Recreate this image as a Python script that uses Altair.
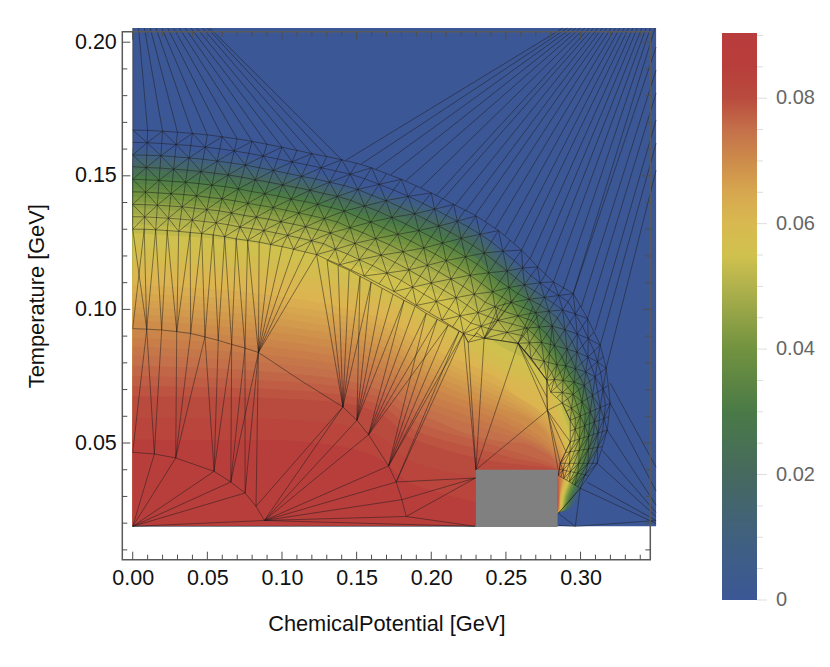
import altair as alt
import pandas as pd

# ---- colour bar / heat levels ----
color_domain = [0, .01, .02, .03, .04, .05, .055, .0625, .07, .075, .08, .085, .0904]
color_range = ["#3c5796", "#40607f", "#46695f", "#4a7a47", "#71923f", "#b1b24c", "#d0c14e",
               "#dcb551", "#cd8c4a", "#c4704a", "#b94b3e", "#b83e3b", "#b83c3c"]
cbar_major = [0, .02, .04, .06, .08]
cbar_labels = ["0", "0.02", "0.04", "0.06", "0.08"]
cbar_minor = [.005, .01, .015, .025, .03, .035, .045, .05, .055, .065, .07, .075, .085, .09]

# contour levels: T at fixed mu columns (upper dome), mu at fixed T rows (right flank)
top_mu = [0, .05, .1, .15, .2, .25]
row_T = [.12, .11, .10, .09, .08, .07, .06, .05, .04, .03, .025, .0235, .019]
N = None
levels = [
 (.005, [.1604,.1585,.1542,.1463,.1398,.1220], [.254,.272,.287,.297,.305,.311,.315,.314,.307,.2985,.2925,.284,.284]),
 (.01,  [.1585,.1563,.1518,.1446,.1379,.1199], [N,.268,.283,.294,.302,.309,.312,.312,.3055,.2975,.2915,.284,.284]),
 (.015, [.1566,.1544,.1501,.1430,.1360,.1178], [N,.264,.279,.290,.299,.307,.311,.311,.304,.2965,.291,.284,.284]),
 (.02,  [.1544,.1521,.1480,.1409,.1338,.1152], [N,.260,.275,.286,.296,.304,.309,.309,.303,.2955,.2905,.284,.284]),
 (.025, [.1525,.1503,.1461,.1390,.1317,.1130], [N,.256,.271,.282,.293,.302,.307,.307,.302,.2945,.290,.284,.284]),
 (.03,  [.1503,.1480,.1439,.1368,.1293,.1103], [N,.2515,.267,.278,.290,.300,.305,.305,.301,.2935,.2895,.284,.284]),
 (.0325,[.1487,.1465,.1424,.1353,.1277,.1086], [N,N,.2645,.276,.288,.2985,.3035,.304,.3003,.293,.2892,.284,.284]),
 (.035, [.1471,.1449,.1409,.1338,.1261,.1068], [N,N,.262,.274,.286,.297,.302,.303,.2995,.2925,.289,.284,.284]),
 (.0375,[.1455,.1433,.1394,.1323,.1244,.1049], [N,N,.259,.272,.284,.2955,.3005,.302,.2988,.292,.2888,.284,.284]),
 (.04,  [.1439,.1416,.1379,.1308,.1227,.1029], [N,N,.256,.270,.282,.294,.299,.301,.298,.2915,.2885,.284,.284]),
 (.0425,[.1422,.1400,.1363,.1292,.1210,.1009], [N,N,.252,.268,.280,.2925,.2975,.300,.2975,.291,.2882,.284,.284]),
 (.045, [.1405,.1383,.1347,.1276,.1192,.0989], [N,N,N,.266,.278,.291,.296,.299,.297,.2905,.288,.284,.284]),
 (.0475,[.1381,.1359,.1324,.1253,.1168,.0961], [N,N,N,.2615,.2755,.289,.2945,.298,.2963,.29,.2878,.284,.284]),
 (.05,  [.1357,.1334,.1300,.1229,.1143,.0933], [N,N,N,.257,.273,.287,.293,.297,.2955,.2895,.2875,.284,.284]),
 (.0525,[.1321,.1301,.1267,.1196,.1106,.0892], [N,N,N,N,.2705,.2845,.291,.2955,.2948,.289,.2872,.284,.284]),
 (.055, [.1285,.1267,.1233,.1162,.1068,.0851], [N,N,N,N,.268,.282,.289,.294,.294,.2885,.287,.284,.284]),
 (.0575,[.1235,.1218,.1186,.1117,.1005,.0812], [N,N,N,N,.255,.279,.287,.292,.293,.288,.2868,.284,.284]),
 (.06,  [.1184,.1169,.1139,.1072,.0941,.0772], [N,N,N,N,N,.276,.285,.290,.292,.2875,.2865,.284,.284]),
 (.06125,[.1153,.1138,.1108,.1046,.0913,.0753], [N,N,N,N,N,.267,.2828,.2893,.2915,.2872,.2863,.284,.284]),
 (.0625,[.1123,.1108,.1078,.1020,.0885,.0735], [N,N,N,N,N,.258,.2805,.2885,.291,.287,.2862,.284,.284]),
 (.06375,[.1092,.1077,.1047,.0993,.0856,.0716], [N,N,N,N,N,.252,.278,.2878,.2905,.2868,.2861,.284,.284]),
 (.065, [.1061,.1046,.1016,.0967,.0828,.0697], [N,N,N,N,N,N,.276,.287,.290,.2865,.286,.284,.284]),
 (.06625,[.1035,.1020,.0990,.0942,.0805,.0678], [N,N,N,N,N,N,.2725,.2855,.2895,.2863,.2859,.284,.284]),
 (.0675,[.1010,.0994,.0964,.0917,.0782,.0660], [N,N,N,N,N,N,.269,.284,.289,.2862,.2858,.284,.284]),
 (.06875,[.0984,.0967,.0937,.0891,.0758,.0641], [N,N,N,N,N,N,.2655,.2825,.2885,.2861,.2856,.284,.284]),
 (.07,  [.0959,.0941,.0911,.0866,.0735,.0622], [N,N,N,N,N,N,.262,.281,.288,.286,.2855,.284,.284]),
 (.07125,[.0926,.0910,.0882,.0838,.0707,.0599], [N,N,N,N,N,N,N,.278,.2875,.2859,.2853,.284,.284]),
 (.0725,[.0894,.0879,.0853,.0810,.0679,.0576], [N,N,N,N,N,N,N,.2745,.287,.2858,.2852,.284,.284]),
 (.07375,[.0861,.0848,.0824,.0781,.0650,.0552], [N,N,N,N,N,N,N,.271,.2865,.2856,.2851,.284,.284]),
 (.075, [.0828,.0817,.0795,.0753,.0622,.0529], [N,N,N,N,N,N,N,.268,.286,.2855,.285,.284,.284]),
 (.07625,[.0790,.0781,.0763,.0725,.0590,.0503], [N,N,N,N,N,N,N,.262,.2855,.2853,.2849,.284,.284]),
 (.0775,[.0752,.0745,.0731,.0697,.0557,.0477], [N,N,N,N,N,N,N,N,.285,.2852,.2848,.284,.284]),
 (.07875,[.0713,.0709,.0699,.0669,.0524,.0451], [N,N,N,N,N,N,N,N,.2845,.2851,.2846,.284,.284]),
 (.08,  [.0675,.0673,.0667,.0641,.0491,.0425], [N,N,N,N,N,N,N,N,.284,.285,.2845,.284,.284]),
 (.0825,[.0594,.0592,.0589,.0557,.0407,.0346], [N,N,N,N,N,N,N,N,N,.2847,.2842,.284,.284]),
 (.085, [.0512,.0511,.0510,.0473,.0323,.0267], [N,N,N,N,N,N,N,N,N,N,.284,.284,.284]),
]

# ---- mesh: nodes per spoke (outer arc -> inner arc) ----
spoke_mu = [
 [0,0,0,0,0,0,0,0,0],
 [.0100,.0097,.0094,.0091,.0089,.0086,.0083,.0080,.0077],
 [.0200,.0194,.0189,.0183,.0177,.0171,.0165,.0160,.0154],
 [.0300,.0291,.0283,.0274,.0266,.0257,.0248,.0240,.0231],
 [.0400,.0389,.0377,.0366,.0354,.0343,.0331,.0320,.0308],
 [.0500,.0486,.0471,.0457,.0443,.0428,.0414,.0399,.0385],
 [.0600,.0583,.0566,.0548,.0531,.0514,.0496,.0479,.0462],
 [.0700,.0680,.0660,.0640,.0620,.0599,.0579,.0559,.0539],
 [.0800,.0777,.0754,.0731,.0708,.0685,.0662,.0639,.0616],
 [.0900,.0874,.0848,.0822,.0797,.0771,.0745,.0719,.0693],
 [.1000,.0971,.0943,.0914,.0885,.0856,.0828,.0799,.0770],
 [.1100,.1068,.1037,.1005,.0974,.0942,.0910,.0879,.0847],
 [.1200,.1166,.1131,.1097,.1062,.1028,.0993,.0959,.0924],
 [.1300,.1263,.1225,.1188,.1151,.1113,.1076,.1038,.1001],
 [.1400,.1360,.1319,.1279,.1239,.1199,.1158,.1118,.1078],
 [.1500,.1457,.1414,.1371,.1328,.1284,.1241,.1198,.1155],
 [.1600,.1554,.1508,.1462,.1416,.1370,.1324,.1278,.1232],
 [.1700,.1651,.1602,.1553,.1505,.1456,.1407,.1358,.1309],
 [.1800,.1748,.1697,.1645,.1593,.1541,.1489,.1438,.1386],
 [.1900,.1845,.1791,.1736,.1682,.1627,.1572,.1518,.1463],
 [.2000,.1944,.1888,.1831,.1775,.1719,.1663,.1606,.1550],
 [.2075,.2022,.1969,.1916,.1863,.1810,.1757,.1703,.1650],
 [.2150,.2100,.2050,.2000,.1950,.1900,.1850,.1800,.1750],
 [.2225,.2175,.2125,.2075,.2025,.1975,.1925,.1875,.1825],
 [.2300,.2250,.2200,.2150,.2100,.2050,.2000,.1950,.1900],
 [.2375,.2327,.2278,.2229,.2181,.2132,.2083,.2034,.1986],
 [.2450,.2403,.2355,.2308,.2261,.2213,.2166,.2118,.2071],
 [.2528,.2480,.2432,.2384,.2336,.2288,.2240,.2192,.2144],
 [.2605,.2556,.2508,.2459,.2411,.2362,.2313,.2265,.2216],
 [.2659,.2612,.2566,.2520,.2474,.2427,.2380,.2334,.2288],
 [.2712,.2668,.2624,.2580,.2536,.2491,.2447,.2403,.2359],
 [.2766,.2729,.2692,.2655,.2618,.2581,.2544,.2507,.2470],
 [.2819,.2789,.2759,.2730,.2700,.2670,.2640,.2611,.2581],
 [.2885,.2853,.2820,.2788,.2755,.2722,.2690,.2657,.2625],
 [.2951,.2916,.2880,.2845,.2810,.2774,.2739,.2703,.2668],
 [.2999,.2965,.2929,.2895,.2860,.2825,.2791,.2755,.2721],
 [.3047,.3013,.2978,.2944,.2910,.2876,.2842,.2807,.2773],
 [.3090,.3052,.3014,.2976,.2938,.2901,.2863,.2825,.2787],
 [.3132,.3091,.3049,.3008,.2966,.2925,.2883,.2842,.2800],
 [.3152,.3113,.3074,.3035,.2996,.2957,.2917,.2878,.2839],
 [.3172,.3135,.3098,.3061,.3025,.2988,.2951,.2914,.2877],
 [.3186,.3151,.3115,.3080,.3045,.3010,.2975,.2940,.2904],
 [.3199,.3166,.3132,.3099,.3065,.3032,.2998,.2965,.2931],
 [.3189,.3157,.3125,.3093,.3060,.3028,.2996,.2964,.2931],
 [.3179,.3148,.3117,.3086,.3055,.3024,.2993,.2962,.2931],
 [.3146,.3115,.3084,.3053,.3022,.2991,.2960,.2929,.2898],
 [.3112,.3081,.3050,.3019,.2988,.2957,.2926,.2895,.2864],
 [.3055,.3031,.3006,.2981,.2957,.2932,.2907,.2882,.2858],
 [.2998,.2980,.2961,.2943,.2925,.2906,.2888,.2869,.2851],
]
spoke_T = [
 [.1671,.1625,.1578,.1534,.1487,.1440,.1393,.1347,.1300],
 [.1670,.1624,.1577,.1531,.1485,.1439,.1392,.1346,.1300],
 [.1667,.1621,.1575,.1529,.1483,.1436,.1390,.1344,.1298],
 [.1663,.1617,.1571,.1525,.1479,.1433,.1387,.1341,.1295],
 [.1659,.1613,.1567,.1521,.1476,.1430,.1384,.1338,.1292],
 [.1653,.1607,.1562,.1516,.1471,.1425,.1379,.1334,.1288],
 [.1646,.1601,.1555,.1510,.1465,.1419,.1374,.1329,.1284],
 [.1638,.1593,.1548,.1503,.1459,.1414,.1369,.1324,.1279],
 [.1629,.1584,.1540,.1495,.1451,.1406,.1361,.1317,.1272],
 [.1618,.1574,.1530,.1485,.1441,.1397,.1352,.1308,.1264],
 [.1607,.1563,.1520,.1476,.1433,.1389,.1345,.1302,.1258],
 [.1595,.1552,.1509,.1466,.1424,.1381,.1338,.1295,.1252],
 [.1583,.1541,.1498,.1456,.1413,.1371,.1328,.1286,.1243],
 [.1572,.1530,.1488,.1446,.1404,.1361,.1319,.1277,.1235],
 [.1560,.1518,.1476,.1434,.1393,.1351,.1309,.1267,.1225],
 [.1547,.1506,.1464,.1423,.1381,.1340,.1298,.1257,.1215],
 [.1530,.1489,.1449,.1408,.1368,.1327,.1286,.1246,.1205],
 [.1508,.1468,.1427,.1387,.1347,.1306,.1266,.1225,.1185],
 [.1487,.1447,.1407,.1367,.1327,.1287,.1247,.1207,.1167],
 [.1462,.1423,.1383,.1344,.1305,.1265,.1226,.1186,.1147],
 [.1436,.1397,.1358,.1319,.1281,.1242,.1203,.1164,.1125],
 [.1415,.1375,.1335,.1295,.1256,.1216,.1176,.1136,.1096],
 [.1393,.1352,.1312,.1271,.1230,.1189,.1148,.1108,.1067],
 [.1372,.1330,.1289,.1248,.1207,.1165,.1124,.1083,.1041],
 [.1350,.1308,.1266,.1224,.1183,.1141,.1099,.1057,.1015],
 [.1323,.1281,.1239,.1197,.1156,.1114,.1072,.1030,.0988],
 [.1295,.1253,.1211,.1169,.1128,.1086,.1044,.1002,.0960],
 [.1259,.1218,.1178,.1137,.1097,.1057,.1016,.0976,.0935],
 [.1222,.1183,.1144,.1105,.1066,.1027,.0988,.0949,.0910],
 [.1191,.1155,.1118,.1082,.1046,.1010,.0974,.0937,.0901],
 [.1159,.1126,.1092,.1059,.1026,.0992,.0959,.0925,.0892],
 [.1131,.1100,.1069,.1038,.1007,.0976,.0945,.0914,.0883],
 [.1103,.1074,.1045,.1017,.0988,.0959,.0930,.0902,.0873],
 [.1081,.1052,.1022,.0993,.0963,.0934,.0904,.0875,.0845],
 [.1059,.1029,.0998,.0968,.0938,.0908,.0877,.0847,.0817],
 [.1013,.0983,.0953,.0924,.0895,.0865,.0835,.0806,.0776],
 [.0966,.0937,.0908,.0879,.0851,.0822,.0793,.0764,.0735],
 [.0916,.0891,.0865,.0840,.0815,.0789,.0764,.0738,.0713],
 [.0866,.0844,.0822,.0800,.0778,.0756,.0734,.0712,.0690],
 [.0823,.0804,.0785,.0766,.0747,.0728,.0708,.0689,.0670],
 [.0780,.0764,.0747,.0731,.0715,.0699,.0682,.0666,.0650],
 [.0715,.0703,.0690,.0678,.0666,.0654,.0642,.0630,.0618],
 [.0649,.0641,.0633,.0625,.0617,.0609,.0601,.0593,.0585],
 [.0599,.0592,.0585,.0579,.0572,.0565,.0558,.0552,.0545],
 [.0548,.0543,.0537,.0532,.0526,.0521,.0515,.0510,.0504],
 [.0486,.0484,.0481,.0478,.0475,.0473,.0470,.0467,.0464],
 [.0424,.0424,.0424,.0424,.0424,.0424,.0424,.0424,.0424],
 [.0378,.0381,.0384,.0387,.0390,.0393,.0396,.0399,.0402],
 [.0331,.0337,.0343,.0349,.0355,.0361,.0367,.0373,.0379],
]

# arcs inside the dome
arcA = [(0,.0928),(.0094,.0926),(.0194,.0923),(.0295,.0917),(.0388,.0910),(.0484,.0897),(.0573,.0884),
        (.0663,.0869),(.0752,.0855),(.0842,.0839),(.1122,.0735),(.1408,.0635),(.1502,.0585),(.1580,.0531),
        (.1714,.0414),(.1765,.0354),(.1803,.0288),(.1832,.0225)]
arcB = [(0,.0465),(.0145,.0459),(.0288,.0444),(.0545,.0394),(.0657,.0354),(.0753,.0313),(.0826,.0263),(.0882,.0210)]
P0 = (0,.0188); P1 = (.0882,.0210); BL = (.2296,.0188); BM = (.2296,.0369); G = (.2299,.0400)
inner_far = [(.1302,.1184),(.1376,.1165),(.1450,.1147),(.1523,.1124),(.1597,.1102),(.1671,.1079),(.1744,.1057),
             (.1818,.1034),(.1892,.1012),(.1966,.0985),(.2040,.0963),(.2113,.0941),(.2187,.0918),(.2216,.0910)]
J2 = (.2247,.0877); J3 = (.2305,.0912); J4 = (.2354,.0892); J5 = (.2582,.0873)
H = (.2778,.0622); H2 = (.2775,.0735); H3 = (.2775,.0671); H4 = (.2877,.0650)
NB = (.2965,.0188)
fans = [
 ((0,.0928),[(.0077,.13),]),
 (arcA[1],[(0,.13),(.0077,.13),(.0154,.1298)]),
 (arcA[2],[(.0154,.1298),(.0231,.1295)]),
 (arcA[3],[(.0231,.1295),(.0308,.1292),(.0385,.1288)]),
 (arcA[4],[(.0385,.1288),(.0462,.1284)]),
 (arcA[5],[(.0462,.1284),(.0539,.1279)]),
 (arcA[6],[(.0539,.1279),(.0616,.1272)]),
 (arcA[7],[(.0616,.1272),(.0693,.1264)]),
 (arcA[8],[(.0693,.1264),(.0770,.1258)]),
 (arcA[9],[(.0770,.1258),(.0847,.1252),(.0924,.1243),(.1001,.1235),(.1078,.1225),(.1155,.1215),(.1232,.1205)]),
 (arcA[11],[(.1232,.1205),(.1302,.1184),(.1376,.1165),(.1450,.1147),(.1523,.1124),(.1597,.1102)]),
 (arcA[12],[(.1523,.1124),(.1597,.1102),(.1671,.1079),(.1744,.1057),(.1818,.1034)]),
 (arcA[13],[(.1818,.1034),(.1892,.1012),(.1966,.0985),(.2040,.0963),(.2113,.0941)]),
 (arcA[14],[(.1966,.0985),(.2040,.0963),(.2113,.0941),(.2187,.0918),(.2216,.0910)]),
 (arcA[15],[(.2187,.0918),(.2216,.0910)]),
 (arcB[0],[arcA[1]]),
 (arcB[1],[arcA[1],arcA[2]]),
 (arcB[2],[arcA[3],arcA[4],arcA[5]]),
 (arcB[3],[arcA[5],arcA[6],arcA[7]]),
 (arcB[4],[arcA[7],arcA[8],arcA[9]]),
 (arcB[5],[arcA[8],arcA[9]]),
 (arcB[6],[arcA[9],arcA[11]]),
 (P0,[arcB[1],arcB[2],arcB[3],arcB[4],arcB[5],P1,BL]),
 (P1,[arcA[11],arcA[12],arcA[13],arcA[14],arcA[15],arcA[16],arcA[17],BL]),
 (BM,[arcA[15],arcA[16],arcA[17]]),
 (arcA[17],[BL]),
 (G,[(.2216,.0910),J2,J4,J5,H]),
 ((.2850,.0400),[H]),
 (J2,[(.2216,.0910),J3,J4]),
 (J4,[J3,J5,(.2450,.1010),(.2500,.1030),(.2550,.1040)]),
 (J5,[H2,H3,H,(.2668,.0817),(.2720,.0980),(.2680,.1010)]),
 (H,[H3,H4,(.2931,.0504),(.2900,.0470),(.2864,.0424)]),
 (H2,[H3,(.2810,.0938)]),
 ((.2864,.0424),[(.2851,.0379)]),
 ((.2998,.0331),[(.2931,.0286),NB]),
 ((.2931,.0286),[(.2851,.0237)]),
 ((.2851,.0237),[NB]),
 ((.2851,.0192),[NB]),
 (NB,[(.3506,.0210)]),
]
# lines leaving the dome towards the top and right edges
top_T = .2053
fan_left_from = [spoke_mu[k][0] for k in range(0, 15)]
fan_left_T = [spoke_T[k][0] for k in range(0, 15)]
fan_left_to = [0,.0039,.0078,.0117,.0156,.0195,.0234,.0273,.0312,.0351,.0390,.0429,.0468,.0500,.0517]
fan_right_from = [(.143,.1559),(.153,.1544),(.163,.1525),(.173,.1505),(.183,.1482),(.193,.1455),(.203,.1425),
                  (.2082,.1415),(.216,.1390),(.223,.1369),(.2294,.1353),(.2361,.1328),(.2428,.1303),(.2495,.1278),
                  (.2555,.1250),(.2605,.1222),(.2663,.1191),(.2712,.1159),(.2763,.1132),(.2819,.1103),(.2884,.1078),(.2951,.1059)]
fan_right_to = [.2882,.2911,.2940,.2970,.2999,.3028,.3058,.3087,.3116,.3146,.3175,.3204,.3234,.3263,.3292,.3322,.3351,.3380,.3410,.3439,.3468,.3499]
edge_R = .3506
edge_from = [(.2951,.1059),(.3005,.1009),(.3047,.0966),(.3098,.0922),(.3132,.0866),(.3172,.0780),
             (.3199,.0724),(.3199,.0649),(.3179,.0548),(.3145,.0473),(.3112,.0424),(.3045,.0353),(.2998,.0331)]
edge_to_T = [.1982,.1896,.1810,.1709,.1622,.1521,.0409,.0320,.0267,.0240,.0225,.0210,.0199]

# ticks and labels
x_major = [0, .05, .10, .15, .20, .25, .30]
x_minor = [.01,.02,.03,.04,.06,.07,.08,.09,.11,.12,.13,.14,.16,.17,.18,.19,.21,.22,.23,.24,.26,.27,.28,.29,.31,.32,.33,.34]
y_major = [.05, .10, .15, .20]
y_minor = [.01,.02,.03,.04,.06,.07,.08,.09,.11,.12,.13,.14,.16,.17,.18,.19]

X_DOM = [-.00697, .34672]
Y_DOM = [.00633, .20393]
W, H_ = 528, 528
FONT = "Liberation Sans"

xs = alt.Scale(domain=X_DOM, nice=False, zero=False)
ys = alt.Scale(domain=Y_DOM, nice=False, zero=False)
cs = alt.Scale(domain=color_domain, range=color_range, interpolate="rgb")

def X(f="mu", axis=None):
    return alt.X(f"{f}:Q", scale=xs, axis=axis, title=None)
def Y(f="T", axis=None):
    return alt.Y(f"{f}:Q", scale=ys, axis=axis, title=None)

layers = []

# background
bg = pd.DataFrame({"mu": [0], "mu2": [edge_R], "T": [.0188], "T2": [top_T]})
layers.append(alt.Chart(bg).mark_rect(color=color_range[0]).encode(
    x=X(), x2="mu2:Q", y=Y(), y2="T2:Q"))

# filled contour levels, lowest first
for i, (lv, top_vals, right_vals) in enumerate(levels):
    pts = [(m, t) for m, t in zip(top_mu, top_vals)]
    pts += [(m, t) for m, t in zip(right_vals, row_T) if m is not None]
    pts.sort(key=lambda p: -p[1])
    df = pd.DataFrame({"mu": [p[0] for p in pts], "T": [p[1] for p in pts], "zero": 0.0, "level": lv})
    legend = None
    if i == 0:
        legend = alt.Legend(orient="none", legendX=599.7, legendY=1.3, title=None, direction="vertical",
                            gradientLength=567, gradientThickness=35, gradientStrokeWidth=0,
                            values=[], type="gradient", padding=0)
    layers.append(alt.Chart(df).mark_area(interpolate="monotone", orient="horizontal").encode(
        x=X(), x2="zero:Q", y=Y(),
        color=alt.Color("level:Q", scale=cs, legend=legend)))

# mesh segments
segs = []
def seg(a, b):
    segs.append({"mu": a[0], "T": a[1], "mu2": b[0], "T2": b[1]})
n_s, n_a = len(spoke_mu), 9
nodes = [[(spoke_mu[k][a], spoke_T[k][a]) for a in range(n_a)] for k in range(n_s)]
for k in range(n_s):
    for a in range(n_a):
        if k + 1 < n_s:
            seg(nodes[k][a], nodes[k + 1][a])
        if a + 1 < n_a:
            seg(nodes[k][a], nodes[k][a + 1])
        if k + 1 < n_s and a + 1 < n_a:
            if (k + a) % 2 == 0:
                seg(nodes[k][a], nodes[k + 1][a + 1])
            else:
                seg(nodes[k + 1][a], nodes[k][a + 1])
for arc in (arcA, arcB):
    for p, q in zip(arc, arc[1:]):
        seg(p, q)
for p, q in zip(inner_far, inner_far[1:]):
    seg(p, q)
seg(inner_far[-1], J2)
seg(J5, (.2668, .0817)); seg((.2668, .0817), H2); seg(H2, H3); seg(H3, H)
seg(H4, (.2931, .0585)); seg((.2931, .0504), (.2864, .0424))
seg((.2998, .0331), (.2851, .0237))
for hub, ts in fans:
    for t in ts:
        seg(hub, t)
for m, t, to in zip(fan_left_from, fan_left_T, fan_left_to):
    seg((m, t), (to, top_T))
for p, to in zip(fan_right_from, fan_right_to):
    seg(p, (to, top_T))
for p, to in zip(edge_from, edge_to_T):
    seg(p, (edge_R, to))
mesh = pd.DataFrame(segs)
layers.append(alt.Chart(mesh).mark_rule(color="#1a1a1a", opacity=.55, strokeWidth=.9).encode(
    x=X(), x2="mu2:Q", y=Y(), y2="T2:Q"))

# grey excluded block
box = pd.DataFrame({"mu": [.2299], "mu2": [.2846], "T": [.0186], "T2": [.0400]})
layers.append(alt.Chart(box).mark_rect(color="#808080").encode(
    x=X(), x2="mu2:Q", y=Y(), y2="T2:Q"))

# frame
layers.append(alt.Chart(pd.DataFrame({"a": [0]})).mark_rect(
    fill="transparent", stroke="#5a5a5a", strokeWidth=1.5).encode(
    x=alt.value(0), x2=alt.value(W), y=alt.value(0), y2=alt.value(H_)))

TICK = "#4d4d4d"
x_axis = alt.Axis(values=x_major, format=".2f", ticks=False, domain=False, grid=False, labelFont=FONT,
                  labelFontSize=21.5, labelColor="#111111", labelPadding=8, title="ChemicalPotential [GeV]",
                  titleFont=FONT, titleFontSize=21.8, titleFontWeight="normal", titleColor="#111111", titlePadding=24)
y_axis = alt.Axis(values=y_major, format=".2f", ticks=False, domain=False, grid=False, labelFont=FONT,
                  labelFontSize=21.5, labelColor="#111111", labelPadding=6, title="Temperature [GeV]",
                  titleFont=FONT, titleFontSize=21.8, titleFontWeight="normal", titleColor="#111111", titlePadding=26)

def xticks(vals, y0, y1, axis=None):
    d = pd.DataFrame({"mu": vals})
    enc = dict(x=alt.X("mu:Q", scale=xs, axis=axis, title="ChemicalPotential [GeV]" if axis else None),
               y=alt.value(y0), y2=alt.value(y1))
    return alt.Chart(d).mark_rule(color=TICK, strokeWidth=1).encode(**enc)
def yticks(vals, x0, x1, axis=None):
    d = pd.DataFrame({"T": vals})
    enc = dict(y=alt.Y("T:Q", scale=ys, axis=axis, title="Temperature [GeV]" if axis else None),
               x=alt.value(x0), x2=alt.value(x1))
    return alt.Chart(d).mark_rule(color=TICK, strokeWidth=1).encode(**enc)

layers += [
    xticks(x_major, H_, H_ - 8, x_axis), xticks(x_minor, H_, H_ - 5),
    xticks(x_major, 0, 8), xticks(x_minor, 0, 5),
    yticks(y_major, 0, 8, y_axis), yticks(y_minor, 0, 5),
    yticks(y_major, W, W - 8), yticks(y_minor, W, W - 5),
]

# colour-bar tick marks and labels on their own scale
cb_y = alt.Scale(domain=[0, .0904], range=[568.3, 1.3], nice=False, zero=False)
def cbticks(vals, x2):
    d = pd.DataFrame({"v": vals})
    return alt.Chart(d).mark_rule(color="#dddddd", strokeWidth=1).encode(
        y=alt.Y("v:Q", scale=cb_y, axis=None, title=None),
        x=alt.value(634.7), x2=alt.value(x2))
layers += [cbticks(cbar_major, 644.7), cbticks(cbar_minor, 640.7)]
layers.append(alt.Chart(pd.DataFrame({"v": cbar_major, "s": cbar_labels})).mark_text(
    align="left", baseline="middle", font=FONT, fontSize=20, color="#666666").encode(
    y=alt.Y("v:Q", scale=cb_y, axis=None, title=None), x=alt.value(653.7), text="s:N"))

chart = alt.layer(*layers).resolve_scale(x="independent", y="independent").properties(
    width=W, height=H_,
    autosize=alt.AutoSizeParams(type="none"),
    padding={"left": 114.3, "top": 23.7, "right": 169.7, "bottom": 98},
    background="white",
).configure_view(stroke=None)

chart.save("out.html", embed_options={"renderer": "svg", "actions": False})
